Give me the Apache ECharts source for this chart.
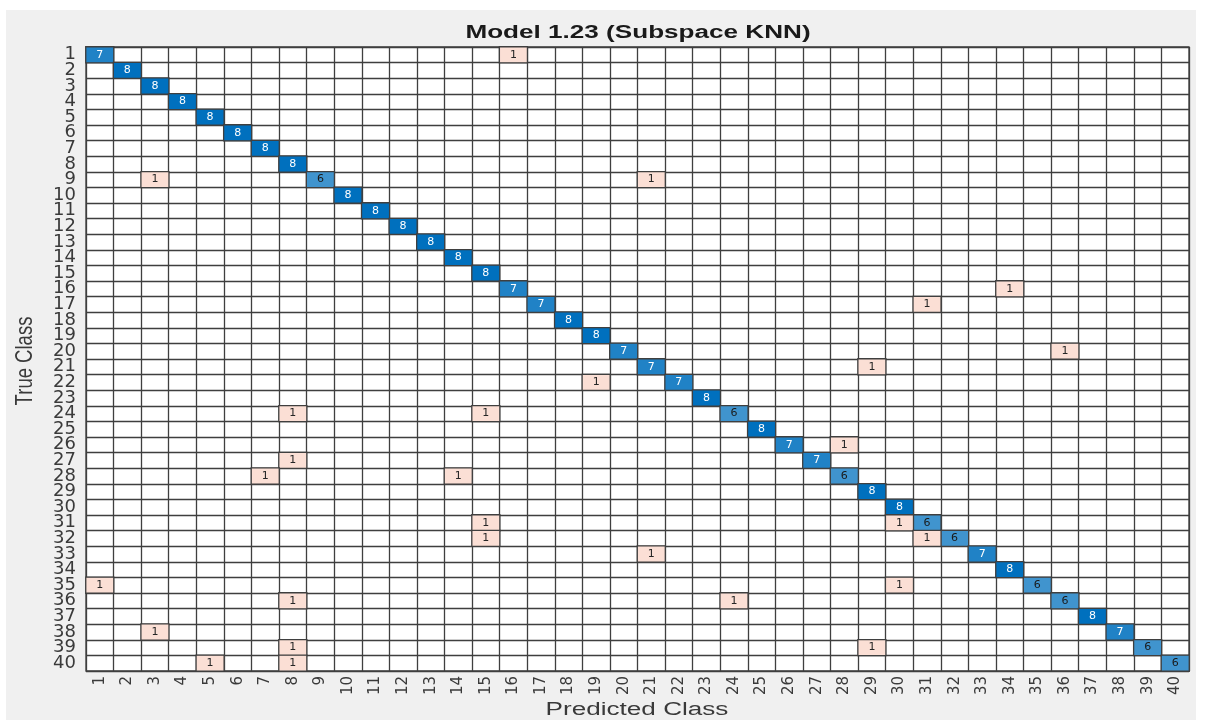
<!DOCTYPE html>
<html>
<head>
<meta charset="utf-8">
<script src="https://cdn.jsdelivr.net/npm/echarts@6/dist/echarts.min.js"></script>
<style>
html,body{margin:0;padding:0;background:#fff;}
#chart{width:1209px;height:720px;}
</style>
</head>
<body>
<div id="chart"></div>
<script>
// Class labels (tick labels on both axes)
const classes = ['1','2','3','4','5','6','7','8','9','10',
  '11','12','13','14','15','16','17','18','19','20',
  '21','22','23','24','25','26','27','28','29','30',
  '31','32','33','34','35','36','37','38','39','40'];

// Correct predictions (diagonal), true class 1..40
const diagonalCounts = [7,8,8,8,8,8,8,8,6,8, 8,8,8,8,8,7,7,8,8,7, 7,7,8,6,8,7,7,6,8,8, 6,6,7,8,6,6,8,7,6,6];

// Misclassifications: true class, predicted class, count
const offTrue  = [1, 9, 9,16,17,20,21,22,24,24,26,27,28,28,31,31,32,32,33,35,35,36,36,38,39,39,40,40];
const offPred  = [16,3,21,34,31,36,29,19, 8,15,28, 8, 7,14,15,30,15,31,21, 1,30, 8,24, 3, 8,29, 5, 8];
const offCount = [1, 1, 1, 1, 1, 1, 1, 1, 1, 1, 1, 1, 1, 1, 1, 1, 1, 1, 1, 1, 1, 1, 1, 1, 1, 1, 1, 1];

const titleText = 'Model 1.23 (Subspace KNN)';
const xName = 'Predicted Class';
const yName = 'True Class';

const maxCount = Math.max(...diagonalCounts);
function mix(rgb, t){
  return 'rgb(' + rgb.map(c => Math.round(255 + (c - 255) * t)).join(',') + ')';
}
const DIAG = [0,112,190];
const OFF = [240,120,80];

const cells = [];
diagonalCounts.forEach((v, i) => {
  const t = v / maxCount;
  cells.push({
    value: [i, i, v],
    itemStyle: { color: mix(DIAG, t) },
    label: { color: t > 0.8 ? '#ffffff' : '#1a1a1a' }
  });
});
offTrue.forEach((tc, k) => {
  const v = offCount[k];
  cells.push({
    value: [offPred[k] - 1, tc - 1, v],
    itemStyle: { color: mix(OFF, 0.24 * v) },
    label: { color: '#262626' }
  });
});

const chart = echarts.init(document.getElementById('chart'), null, {renderer: 'canvas'});
const lineColor = '#3f3f3f';
const textColor = '#3a3a3a';
chart.setOption({
  backgroundColor: '#ffffff',
  animation: false,
  graphic: [
    { type: 'rect', z: -10, silent: true,
      shape: { x: 6, y: 10, width: 1190, height: 710 },
      style: { fill: '#f0f0f0' } },
    { type: 'text', x: 638, y: 33, scaleX: 1.45, silent: true,
      style: { text: titleText, fontFamily: 'Liberation Sans', fontSize: 18, fontWeight: 'bold',
        fill: '#1a1a1a', textAlign: 'center', textVerticalAlign: 'middle' } },
    { type: 'text', x: 637, y: 710, scaleX: 1.45, silent: true,
      style: { text: xName, fontFamily: 'Liberation Sans', fontSize: 18,
        fill: textColor, textAlign: 'center', textVerticalAlign: 'middle' } },
    { type: 'text', x: 25, y: 361, rotation: Math.PI / 2, scaleY: 1.3, silent: true,
      style: { text: yName, fontFamily: 'Liberation Sans', fontSize: 18.5,
        fill: textColor, textAlign: 'center', textVerticalAlign: 'middle' } }
  ],
  grid: {
    left: 86, top: 47, width: 1103, height: 624,
    show: true, backgroundColor: '#ffffff', borderColor: lineColor, borderWidth: 1.3,
    containLabel: false
  },
  xAxis: {
    type: 'category', data: classes, position: 'bottom',
    axisLine: { show: false }, axisTick: { show: false },
    axisLabel: { interval: 0, rotate: 90, margin: 5, fontSize: 15, color: textColor, fontFamily: 'DejaVu Sans' },
    splitLine: { show: true, interval: 0, lineStyle: { color: lineColor, width: 1.3 } }
  },
  yAxis: {
    type: 'category', data: classes, inverse: true,
    axisLine: { show: false }, axisTick: { show: false },
    axisLabel: { interval: 0, margin: 10, fontSize: 18, color: textColor, fontFamily: 'DejaVu Sans' },
    splitLine: { show: true, interval: 0, lineStyle: { color: lineColor, width: 1.3 } }
  },
  series: [{
    type: 'heatmap',
    data: cells,
    itemStyle: { borderColor: lineColor, borderWidth: 1.3 },
    label: { show: true, fontSize: 11, fontFamily: 'DejaVu Sans',
      formatter: p => String(p.value[2]) },
    emphasis: { disabled: true }
  }]
});
</script>
</body>
</html>
